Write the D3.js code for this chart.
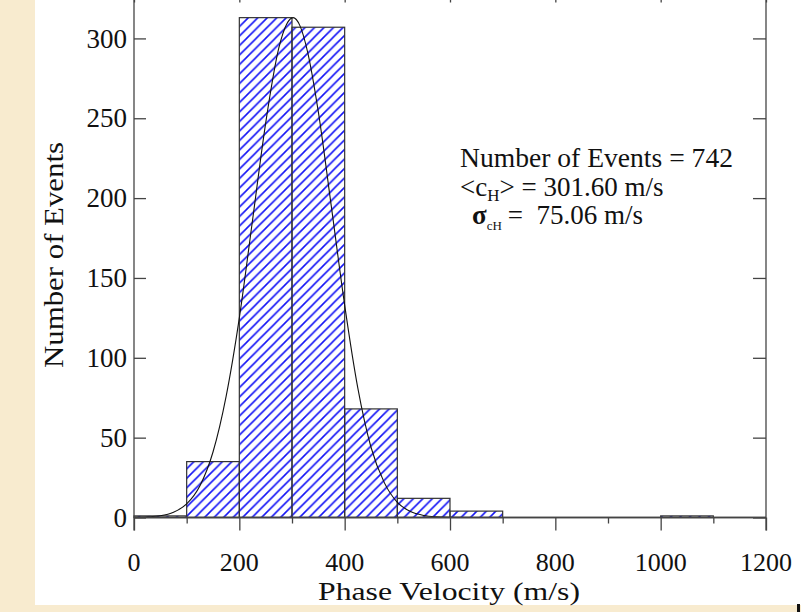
<!DOCTYPE html>
<html>
<head>
<meta charset="utf-8">
<script src="https://cdn.jsdelivr.net/npm/d3@7"></script>
<style>
  html, body { margin: 0; padding: 0; background: #f8ebcf; }
  svg { display: block; }
  text { font-family: "Liberation Serif", "Times New Roman", serif; fill: #111; white-space: pre; }
</style>
</head>
<body>
<svg id="chart" width="801" height="612"></svg>
<script>
// ---- data ----
const binStarts = [0, 100, 200, 300, 400, 500, 600, 700, 800, 900, 1000, 1100];
const binCounts = [1, 35, 313, 307, 68, 12, 4, 0, 0, 0, 1, 0];
const binWidth = 100;
// fitted curve, points
const curveX = [0, 25, 50, 75, 100, 125, 150, 175, 200, 225, 250, 275, 290, 302, 315, 330, 350, 375, 400, 425, 450, 475, 500, 525, 550, 575, 600, 650, 700];
const curveY = [0.1, 0.4, 1.1, 3.3, 8.5, 19.7, 41, 76, 125, 186, 247, 294, 309, 313, 308, 291, 254, 194, 133, 81, 44, 22, 9.5, 3.7, 1.3, 0.4, 0.1, 0, 0];
const xTicksMajor = [0, 200, 400, 600, 800, 1000, 1200];
const xTicksMinor = [100, 300, 500, 700, 900, 1100];
const yTicks = [0, 50, 100, 150, 200, 250, 300];
const xTitle = "Phase Velocity (m/s)";
const yTitle = "Number of Events";
const nEvents = 742, meanC = "301.60", sigmaC = "75.06";

// ---- layout ----
const svg = d3.select("#chart");
const W = 801, H = 612;
svg.append("rect").attr("x", 0).attr("y", 0).attr("width", W).attr("height", H).attr("fill", "#f8ebcf");
svg.append("rect").attr("x", 35).attr("y", 0).attr("width", W - 35).attr("height", 605).attr("fill", "#ffffff");
svg.append("rect").attr("x", 797).attr("y", 604).attr("width", 3).attr("height", 8).attr("fill", "#111");

const x = d3.scaleLinear().domain([0, 1200]).range([134, 766]);
const y = d3.scaleLinear().domain([0, 330]).range([517.5, -9.5]);

// hatch pattern
const defs = svg.append("defs");
const pat = defs.append("pattern").attr("id", "hatch").attr("patternUnits", "userSpaceOnUse")
  .attr("width", 9.5).attr("height", 9.5);
pat.append("path").attr("d", "M0,9.5 L9.5,0 M-2,2 L2,-2 M7.5,11.5 L11.5,7.5")
  .attr("stroke", "#1414f5").attr("stroke-width", 1.6).attr("fill", "none");

// bars
const bars = binStarts.map((s, i) => ({ x0: s, x1: s + binWidth, c: binCounts[i] })).filter(d => d.c > 0);
svg.append("g").selectAll("rect").data(bars).join("rect")
  .attr("x", d => x(d.x0)).attr("y", d => y(d.c))
  .attr("width", d => x(d.x1) - x(d.x0)).attr("height", d => y(0) - y(d.c))
  .attr("fill", "url(#hatch)").attr("stroke", "#333").attr("stroke-width", 1.2);

// curve
const pts = curveX.map((v, i) => [v, curveY[i]]);
svg.append("path").datum(pts)
  .attr("d", d3.line().x(d => x(d[0])).y(d => y(d[1])).curve(d3.curveMonotoneX))
  .attr("fill", "none").attr("stroke", "#111").attr("stroke-width", 1.1);

// axes
const axisColor = "#444";
// bottom axis
const gB = svg.append("g").attr("transform", `translate(0,${y(0)})`);
gB.call(d3.axisBottom(x).tickValues(xTicksMajor).tickSize(13).tickFormat(""));
gB.call(g => g.append("g").call(d3.axisBottom(x).tickValues(xTicksMinor).tickSize(6).tickFormat("")));
gB.selectAll("path.domain").attr("stroke", axisColor).attr("stroke-width", 1.3).attr("d", `M${x(0)},0H${x(1200)}`);
gB.selectAll("line").attr("stroke", axisColor).attr("stroke-width", 1.3);
svg.append("g").selectAll("text").data(xTicksMajor).join("text")
  .attr("x", d => x(d)).attr("y", 571).attr("text-anchor", "middle")
  .attr("font-size", 26).text(d => d);

// top axis (above viewport, ticks inward)
const gT = svg.append("g").attr("transform", `translate(0,${y(330)})`);
gT.call(d3.axisBottom(x).tickValues(xTicksMajor).tickSize(12).tickFormat(""));
gT.selectAll("path.domain").attr("stroke", axisColor).attr("stroke-width", 1.3).attr("d", `M${x(0)},0H${x(1200)}`);
gT.selectAll("line").attr("stroke", axisColor).attr("stroke-width", 1.3);

// left axis
const gL = svg.append("g").attr("transform", `translate(${x(0)},0)`);
gL.call(d3.axisRight(y).tickValues(yTicks).tickSize(12).tickFormat(""));
gL.selectAll("path.domain").attr("stroke", axisColor).attr("stroke-width", 1.3).attr("d", `M0,${y(330)}V${y(0) + 13}`);
gL.selectAll("line").attr("stroke", axisColor).attr("stroke-width", 1.3);
svg.append("g").selectAll("text").data(yTicks).join("text")
  .attr("x", 127).attr("y", d => y(d)).attr("dy", "0.34em").attr("text-anchor", "end")
  .attr("font-size", 27).text(d => d);

// right axis
const gR = svg.append("g").attr("transform", `translate(${x(1200)},0)`);
gR.call(d3.axisLeft(y).tickValues(yTicks).tickSize(13).tickFormat(""));
gR.selectAll("path.domain").attr("stroke", axisColor).attr("stroke-width", 1.3).attr("d", `M0,${y(330)}V${y(0) + 13}`);
gR.selectAll("line").attr("stroke", axisColor).attr("stroke-width", 1.3);

// titles
svg.append("text").attr("x", 449).attr("y", 600).attr("text-anchor", "middle")
  .attr("font-size", 25).attr("textLength", 262).attr("lengthAdjust", "spacingAndGlyphs").text(xTitle);
svg.append("text").attr("transform", "translate(63,255) rotate(-90)").attr("text-anchor", "middle")
  .attr("font-size", 27).attr("textLength", 226).attr("lengthAdjust", "spacingAndGlyphs").text(yTitle);

// annotation
const ann = svg.append("g");
ann.append("text").attr("x", 460).attr("y", 167).attr("font-size", 27)
  .attr("textLength", 273).attr("lengthAdjust", "spacingAndGlyphs").text(`Number of Events = ${nEvents}`);
const t2 = ann.append("text").attr("x", 460).attr("y", 196).attr("font-size", 27);
t2.append("tspan").text("<c");
t2.append("tspan").attr("font-size", 17).attr("dy", 5).text("H");
t2.append("tspan").attr("dy", -5).text(`> = ${meanC} m/s`);
const t3 = ann.append("text").attr("x", 472).attr("y", 224).attr("font-size", 27);
t3.append("tspan").attr("font-weight", "bold").text("σ");
t3.append("tspan").attr("font-size", 13).attr("dy", 6).text("cH");
t3.append("tspan").attr("dy", -6).attr("dx", 6).text(`=  ${sigmaC} m/s`);
</script>
</body>
</html>
